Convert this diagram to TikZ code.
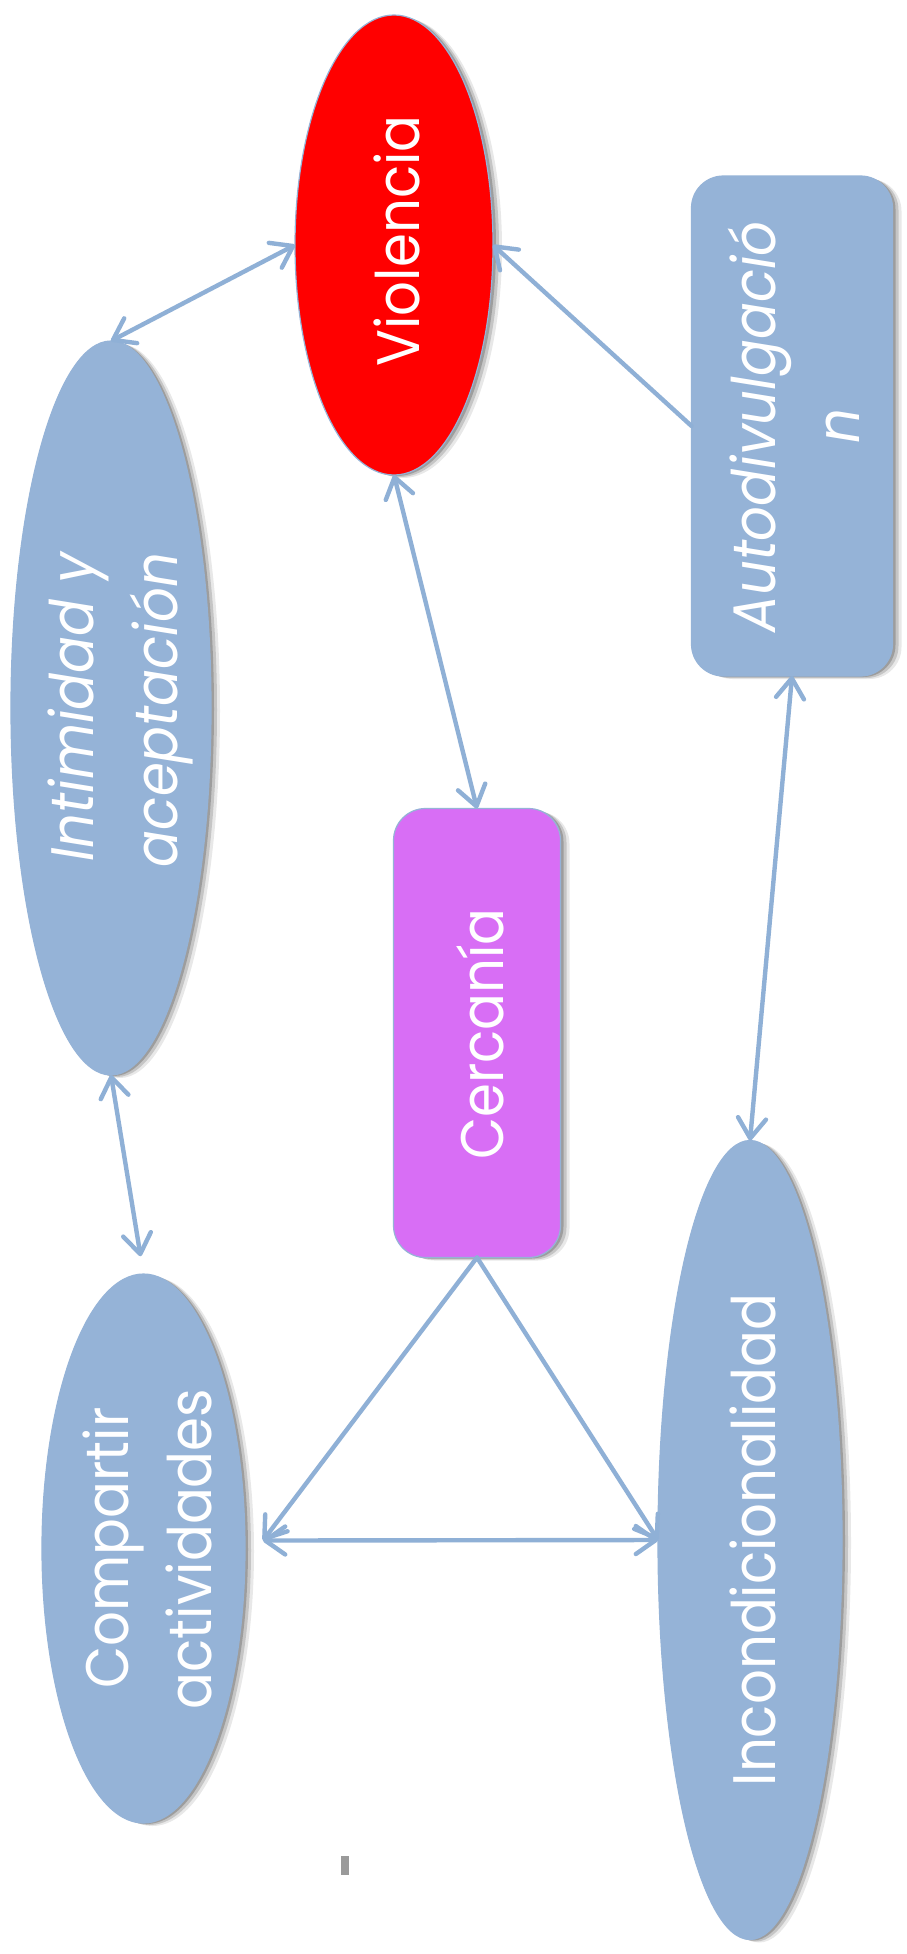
\documentclass[tikz,border=0pt]{standalone}
\usepackage{fontspec}
\setmainfont{Poppins}[FakeStretch=0.91]
\usetikzlibrary{shapes.geometric, arrows.meta, shadows}
\definecolor{nodeblue}{HTML}{95B3D7}
\definecolor{linkblue}{HTML}{8FB0D6}
\definecolor{viored}{HTML}{FF0000}
\definecolor{cercpurple}{HTML}{D86EF5}
\definecolor{markgray}{HTML}{9A9A9A}
\tikzset{
  softshadow/.style={
    drop shadow={shadow xshift=3pt, shadow yshift=-1pt, opacity=0.20, fill=black},
    drop shadow={shadow xshift=6pt, shadow yshift=-2pt, opacity=0.15, fill=black},
    drop shadow={shadow xshift=9pt, shadow yshift=-3pt, opacity=0.09, fill=black}},
  lineshadow/.style={preaction={draw=black, opacity=0.10, line width=7pt, transform canvas={xshift=3pt, yshift=-2pt}}},
  ell/.style={ellipse, softshadow, fill=nodeblue, draw=nodeblue, line width=1.2pt, inner sep=0pt, outer sep=0pt},
  rbox/.style={rectangle, rounded corners=32pt, softshadow, fill=nodeblue, draw=nodeblue, line width=1.2pt, inner sep=0pt, outer sep=0pt},
  txt/.style={text=white, font=\fontsize{60}{72}\selectfont, rotate=90, anchor=base, inner sep=0pt},
  itxt/.style={txt, font=\fontsize{60}{72}\selectfont\itshape},
  link/.style={draw=linkblue, line width=4.4pt, line cap=round, line join=round},
  dbl/.style={link, {Straight Barb[length=20pt, width=28pt, round]}-{Straight Barb[length=20pt, width=28pt, round]}},
  sgl/.style={link, -{Straight Barb[length=20pt, width=28pt, round]}}
}
\begin{document}
\begin{tikzpicture}[x=1pt, y=1pt]
\path[use as bounding box, fill=white] (0,0) rectangle (907,-1954);

% shapes
\node[ell, fill=viored, minimum width=198pt, minimum height=460pt] (vio) at (394,-245) {};
\node[rbox, minimum width=201pt, minimum height=500pt] (auto) at (792,-426) {};
\node[ell, minimum width=200pt, minimum height=734pt] (inti) at (111,-708) {};
\node[rbox, fill=cercpurple, minimum width=167pt, minimum height=449pt] (cerc) at (477,-1033) {};
\node[ell, minimum width=203pt, minimum height=549pt] (comp) at (143.5,-1548.5) {};
\node[ell, minimum width=184pt, minimum height=799pt] (inco) at (750,-1540) {};
\node[fill=markgray, minimum width=8pt, minimum height=19pt, inner sep=0pt] (mark) at (345,-1865.5) {};

% connectors
\coordinate (compR) at ([xshift=18pt, yshift=8pt]comp.east);
\draw[dbl] (inti.north) -- (vio.west);
\draw[dbl] (vio.south) -- (cerc.north);
\draw[sgl] (auto.west) -- (vio.east);
\draw[dbl] (auto.south) -- (inco.north);
\draw[dbl, shorten >=18pt] (inti.south) -- (comp.north);
\draw[sgl] (cerc.south) -- (compR);
\draw[sgl] (cerc.south) -- (inco.west);
\draw[dbl] (compR) -- (inco.west);

% texts
\node[txt] (vioT) at (419,-241) {Violencia};
\node[itxt] (autoT1) at (775,-427) {Autodivulgació};
\node[itxt] (autoT2) at (859,-426) {n};
\node[itxt] (intiT1) at (93,-707) {Intimidad y};
\node[itxt] (intiT2) at (177,-710) {aceptación};
\node[txt] (cercT) at (503,-1034) {Cercanía};
\node[txt] (compT1) at (128,-1548) {Compartir};
\node[txt] (compT2) at (211,-1549) {actividades};
\node[txt] (incoT) at (775,-1540) {Incondicionalidad};
\end{tikzpicture}
\end{document}
